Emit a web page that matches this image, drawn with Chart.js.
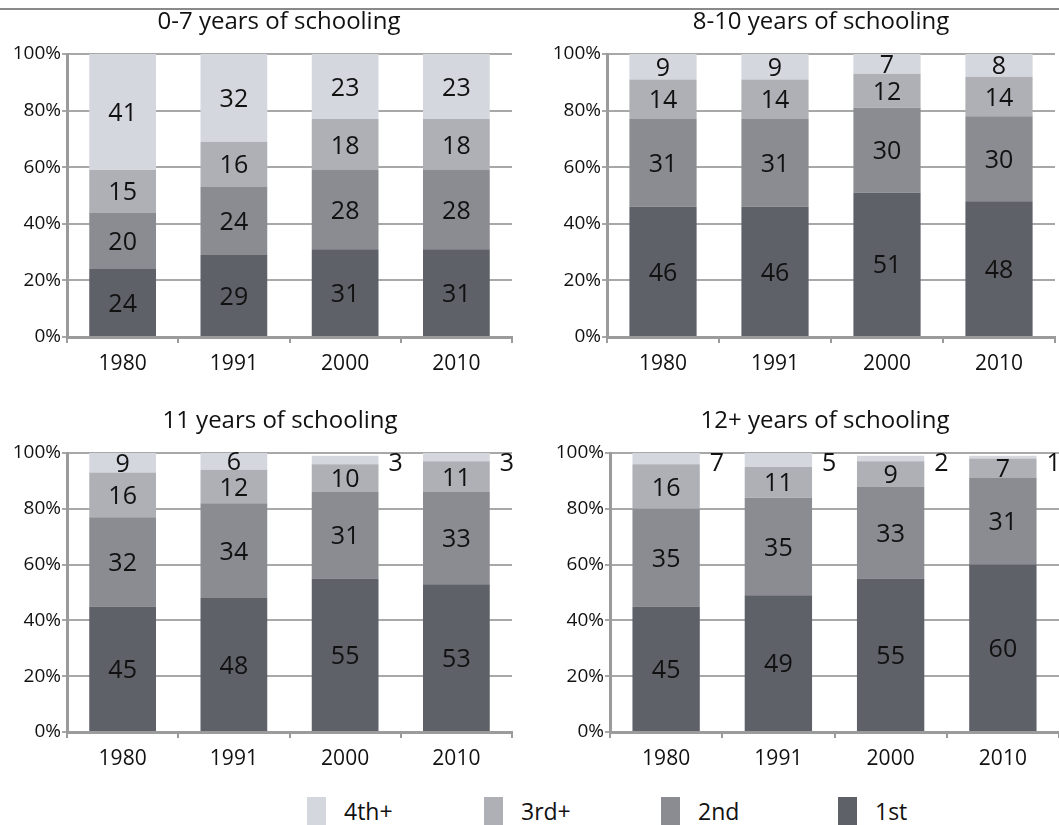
<!DOCTYPE html>
<html lang="en">
<head>
    <meta charset="UTF-8">
    <title>Birth order by years of schooling</title>
    <script src="https://cdn.jsdelivr.net/npm/chart.js@4.4.1/dist/chart.umd.min.js"></script>
    <style>
        body {
            margin: 0;
            background: #fff;
            overflow: hidden;
            font-family: "Open Sans", sans-serif;
        }
        .topline {
            position: absolute;
            left: 0;
            top: 8px;
            width: 1059px;
            height: 2px;
            background: #8a8a8a;
        }
        .panel {
            position: absolute;
            height: 380px;
        }
        .title {
            position: absolute;
            font-size: 24px;
            line-height: 29px;
            color: #111;
            white-space: nowrap;
            transform: translateX(-50%);
        }
        #legend {
            position: absolute;
            left: 307px;
            top: 797px;
            display: flex;
            font-size: 23px;
            color: #111;
        }
        #legend .item {
            display: flex;
            width: 177px;
            line-height: 28px;
        }
        #legend .box {
            width: 19px;
            height: 28px;
            margin-right: 18px;
        }
    </style>
</head>

<body>
    <div class="topline"></div>
    <div class="panel" style="left:0;top:0;width:530px;"><canvas id="c0"></canvas></div>
    <div class="panel" style="left:530px;top:0;width:529px;"><canvas id="c1"></canvas></div>
    <div class="panel" style="left:0;top:400px;width:530px;"><canvas id="c2"></canvas></div>
    <div class="panel" style="left:530px;top:400px;width:529px;"><canvas id="c3"></canvas></div>
    <div class="title" id="t0" style="left:279px;top:5px;"></div>
    <div class="title" id="t1" style="left:821px;top:5px;"></div>
    <div class="title" id="t2" style="left:280px;top:404px;"></div>
    <div class="title" id="t3" style="left:825px;top:404px;"></div>
    <div id="legend"></div>
    <script>
        // categories and series
        const years = ["1980", "1991", "2000", "2010"];
        const seriesNames = ["1st", "2nd", "3rd+", "4th+"];
        const seriesColors = ["#5f6169", "#8a8c92", "#aeb0b6", "#d4d7de"];
        const yTicks = [0, 20, 40, 60, 80, 100];

        // 0-7 years of schooling
        const first07 = [24, 29, 31, 31];
        const second07 = [20, 24, 28, 28];
        const third07 = [15, 16, 18, 18];
        const fourth07 = [41, 32, 23, 23];

        // 8-10 years of schooling
        const first810 = [46, 46, 51, 48];
        const second810 = [31, 31, 30, 30];
        const third810 = [14, 14, 12, 14];
        const fourth810 = [9, 9, 7, 8];

        // 11 years of schooling
        const first11 = [45, 48, 55, 53];
        const second11 = [32, 34, 31, 33];
        const third11 = [16, 12, 10, 11];
        const fourth11 = [9, 6, 3, 3];

        // 12+ years of schooling
        const first12 = [45, 49, 55, 60];
        const second12 = [35, 35, 33, 31];
        const third12 = [16, 11, 9, 7];
        const fourth12 = [7, 5, 2, 1];

        const panels = [
            { id: "c0", title: "0-7 years of schooling", series: [first07, second07, third07, fourth07],
              padTop: 54, padR: 18, yWidth: 67, xHeight: 43, outsideTop: false },
            { id: "c1", title: "8-10 years of schooling", series: [first810, second810, third810, fourth810],
              padTop: 54, padR: 4, yWidth: 77, xHeight: 43, outsideTop: false },
            { id: "c2", title: "11 years of schooling", series: [first11, second11, third11, fourth11],
              padTop: 53, padR: 18, yWidth: 67, xHeight: 48, outsideTop: false },
            { id: "c3", title: "12+ years of schooling", series: [first12, second12, third12, fourth12],
              padTop: 53, padR: 0, yWidth: 80, xHeight: 48, outsideTop: true }
        ];

        const axisColor = "#9b9b9b";
        const gridColor = "#a8a8a8";

        // numbers inside each segment, small top segments go beside the bar
        const segLabels = {
            id: "segLabels",
            afterDatasetsDraw(chart, args, opts) {
                const ctx = chart.ctx;
                const area = chart.chartArea;
                ctx.save();
                ctx.font = '25px "Open Sans"';
                ctx.fillStyle = "#111";
                ctx.textBaseline = "middle";
                chart.data.datasets.forEach(function (ds, di) {
                    const meta = chart.getDatasetMeta(di);
                    meta.data.forEach(function (bar, i) {
                        const v = ds.data[i];
                        const p = bar.getProps(["x", "y", "base", "width"], true);
                        const top = Math.max(p.y, area.top);
                        const outside = di === 3 && (opts.outsideTop || v <= 3);
                        if (outside) {
                            ctx.textAlign = "left";
                            ctx.fillText(v, p.x + p.width / 2 + 10, area.top + 11);
                        } else {
                            ctx.textAlign = "center";
                            ctx.fillText(v, p.x, (top + p.base) / 2 + 2);
                        }
                    });
                });
                ctx.restore();
            }
        };

        Chart.defaults.font.family = '"Open Sans", sans-serif';
        Chart.defaults.color = "#111";

        function show(panel, n) {
            document.getElementById("t" + n).textContent = panel.title;
            const ctx = document.getElementById(panel.id).getContext("2d");
            new Chart(ctx, {
                type: "bar",
                data: {
                    labels: years,
                    datasets: panel.series.map(function (vals, k) {
                        return {
                            label: seriesNames[k],
                            data: vals,
                            backgroundColor: seriesColors[k],
                            borderWidth: 0,
                            barPercentage: 0.6,
                            categoryPercentage: 1
                        };
                    })
                },
                options: {
                    responsive: true,
                    maintainAspectRatio: false,
                    animation: false,
                    layout: {
                        padding: { left: 0, right: panel.padR, top: panel.padTop, bottom: 0 }
                    },
                    plugins: {
                        legend: { display: false },
                        tooltip: { enabled: false },
                        title: { display: false },
                        segLabels: { outsideTop: panel.outsideTop }
                    },
                    scales: {
                        x: {
                            stacked: true,
                            afterFit: function (scale) { scale.height = panel.xHeight; },
                            grid: {
                                drawOnChartArea: false,
                                offset: true,
                                tickLength: 6,
                                color: axisColor,
                                lineWidth: 2
                            },
                            border: { color: axisColor, width: 3 },
                            ticks: { font: { size: 21 }, padding: 8, color: "#111" }
                        },
                        y: {
                            stacked: true,
                            min: 0,
                            max: 100,
                            afterFit: function (scale) { scale.width = panel.yWidth; },
                            afterBuildTicks: function (scale) {
                                scale.ticks = yTicks.map(function (v) { return { value: v }; });
                            },
                            grid: {
                                color: gridColor,
                                lineWidth: 2,
                                tickLength: 5
                            },
                            border: { color: axisColor, width: 3 },
                            ticks: {
                                font: { size: 19 },
                                padding: 1,
                                color: "#111",
                                callback: function (v) { return v + "%"; }
                            }
                        }
                    }
                },
                plugins: [segLabels]
            });
        }
        panels.forEach(show);

        // shared legend, highest birth order first
        const legend = document.getElementById("legend");
        for (let k = seriesNames.length - 1; k >= 0; k--) {
            const item = document.createElement("div");
            item.className = "item";
            const box = document.createElement("span");
            box.className = "box";
            box.style.background = seriesColors[k];
            const txt = document.createElement("span");
            txt.textContent = seriesNames[k];
            item.appendChild(box);
            item.appendChild(txt);
            legend.appendChild(item);
        }
    </script>
</body>

</html>
